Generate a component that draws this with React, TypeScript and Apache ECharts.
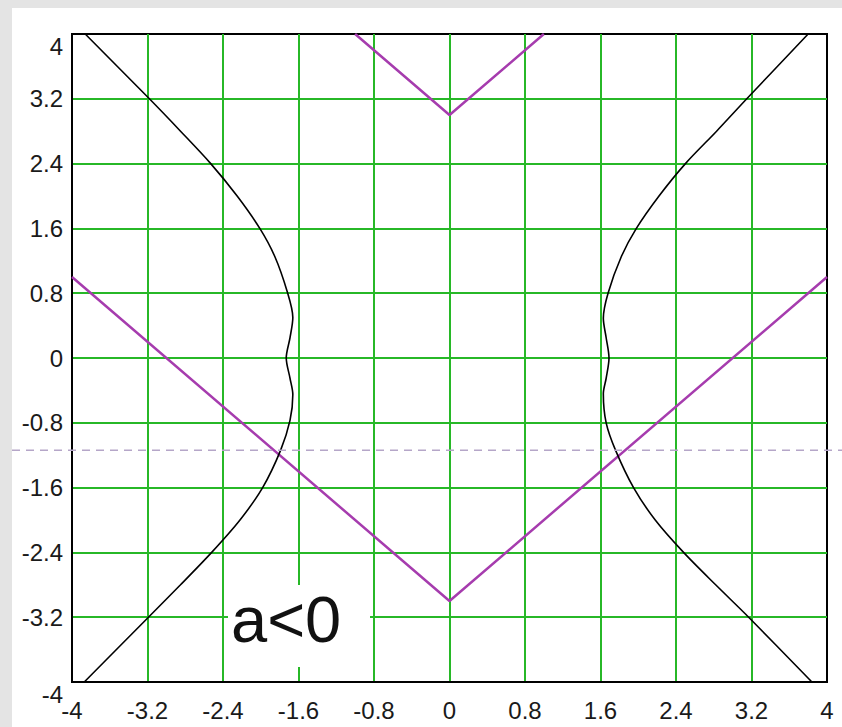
import { useEffect, useRef } from "react";
import * as echarts from "echarts";

// Axis range and tick spacing (both axes share them)
const AXIS_MIN = -4;
const AXIS_MAX = 4;
const TICK_STEP = 0.8;

// Left branch of the curve, traced from top to bottom
const leftBranchY = [4.0, 3.2, 2.8, 2.4, 2.0, 1.6, 1.25, 0.82, 0.5, 0.25, 0, -0.25, -0.45, -0.77, -1.14, -1.6, -2.0, -2.4, -2.8, -3.2, -4.0];
const leftBranchX = [-3.86, -3.18, -2.85, -2.53, -2.25, -2.01, -1.85, -1.72, -1.66, -1.69, -1.73, -1.69, -1.66, -1.69, -1.79, -1.98, -2.22, -2.52, -2.85, -3.19, -3.87];

// Right branch of the curve, traced from top to bottom
const rightBranchY = [4.0, 3.2, 2.8, 2.4, 2.0, 1.6, 1.25, 0.8, 0.49, 0.25, 0, -0.25, -0.44, -0.8, -1.14, -1.6, -2.0, -2.4, -2.8, -3.2, -4.0];
const rightBranchX = [3.8, 3.15, 2.83, 2.5, 2.22, 1.98, 1.82, 1.68, 1.63, 1.66, 1.69, 1.66, 1.63, 1.66, 1.76, 1.95, 2.18, 2.48, 2.82, 3.17, 3.84];

// Two V-shaped lines
const lowerVX = [-4, 0, 4];
const lowerVY = [1, -3, 1];
const upperVX = [-1, 0, 1];
const upperVY = [4, 3, 4];

// Horizontal dashed guide
const guideY = -1.14;

const caseLabel = "a<0";

const FONT = "'Liberation Sans', Arial, sans-serif";
const GREEN = "#27b827";
const MAGENTA = "#a63cae";

const zip = (xs: number[], ys: number[]) => xs.map((x, i) => [x, ys[i]]);

export default function App() {
  const ref = useRef<HTMLDivElement>(null);

  useEffect(() => {
    if (!ref.current) return;
    const chart = echarts.init(ref.current, undefined, { renderer: "svg" });

    const axisCommon = {
      type: "value" as const,
      min: AXIS_MIN,
      max: AXIS_MAX,
      interval: TICK_STEP,
      axisLine: { show: true, onZero: false, lineStyle: { color: "#000", width: 2 } },
      axisTick: { show: false },
      splitLine: {
        show: true,
        showMinLine: false,
        showMaxLine: false,
        lineStyle: { color: GREEN, width: 2 },
      },
    };

    chart.setOption({
      animation: false,
      backgroundColor: "transparent",
      grid: {
        left: 72,
        top: 34,
        right: 15,
        bottom: 45,
        show: true,
        backgroundColor: "#fff",
        borderColor: "#000",
        borderWidth: 2,
      },
      xAxis: {
        ...axisCommon,
        axisLabel: { color: "#1a1a1a", fontFamily: FONT, fontSize: 24, margin: 16 },
      },
      yAxis: {
        ...axisCommon,
        axisLabel: {
          color: "#1a1a1a",
          fontFamily: FONT,
          fontSize: 24,
          margin: 9,
          verticalAlignMinLabel: "top",
          verticalAlignMaxLabel: "top",
        },
      },
      series: [
        {
          type: "line",
          data: zip(lowerVX, lowerVY),
          showSymbol: false,
          lineStyle: { color: MAGENTA, width: 2.5 },
          z: 3,
        },
        {
          type: "line",
          data: zip(upperVX, upperVY),
          showSymbol: false,
          lineStyle: { color: MAGENTA, width: 2.5 },
          z: 3,
        },
        {
          type: "line",
          data: zip(leftBranchX, leftBranchY),
          showSymbol: false,
          smooth: 0.3,
          lineStyle: { color: "#000", width: 1.6 },
          z: 4,
        },
        {
          type: "line",
          data: zip(rightBranchX, rightBranchY),
          showSymbol: false,
          smooth: 0.3,
          lineStyle: { color: "#000", width: 1.6 },
          z: 4,
        },
      ],
    });

    const gy = chart.convertToPixel({ gridIndex: 0 }, [0, guideY])[1];

    chart.setOption({
      graphic: [
        {
          id: "guide",
          type: "line",
          z: 5,
          shape: { x1: 12, y1: gy, x2: 842, y2: gy },
          style: { stroke: "#b5a6c8", lineWidth: 1.5, lineDash: [8, 6] },
        },
        {
          id: "caseBox",
          type: "rect",
          z: 10,
          shape: { x: 228, y: 585, width: 142, height: 82 },
          style: { fill: "#fff" },
        },
        {
          id: "caseText",
          type: "text",
          z: 11,
          x: 231,
          y: 652,
          style: {
            text: caseLabel,
            fontFamily: FONT,
            fontSize: 65,
            fill: "#111",
            verticalAlign: "bottom",
          },
        },
      ],
    });

    return () => chart.dispose();
  }, []);

  return (
    <div
      style={{
        position: "fixed",
        left: 0,
        top: 0,
        width: 842,
        height: 727,
        background: "#e4e4e4",
        overflow: "hidden",
      }}
    >
      <div
        style={{
          position: "absolute",
          left: 12,
          top: 8,
          right: 0,
          bottom: 0,
          background: "#fff",
        }}
      />
      <div ref={ref} style={{ position: "absolute", left: 0, top: 0, width: 842, height: 727 }} />
    </div>
  );
}
